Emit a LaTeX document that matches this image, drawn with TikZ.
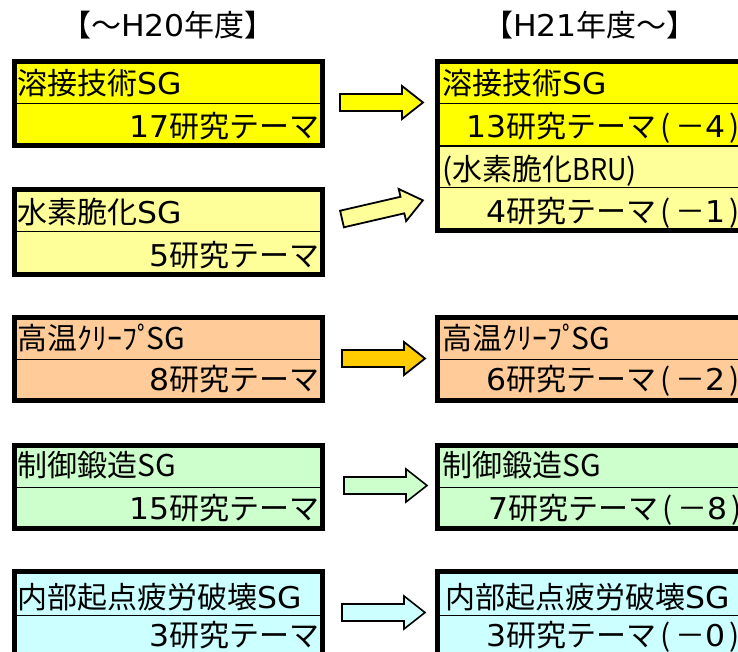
\documentclass[tikz,border=0pt]{standalone}
\usepackage{fontspec}
\setmainfont{Noto Sans CJK JP}
\newfontfamily\latf[FakeStretch=1.05]{DejaVu Sans}
\newfontfamily\narf[FakeStretch=0.9]{Noto Sans CJK JP}
\definecolor{cYel}{HTML}{FFFF00}
\definecolor{cLY}{HTML}{FFFF99}
\definecolor{cPeach}{HTML}{FFCC99}
\definecolor{cGreen}{HTML}{CCFFCC}
\definecolor{cCyan}{HTML}{CCFFFF}
\definecolor{cGold}{HTML}{FFCC00}
\newcommand\PLx{\makebox[19pt][c]{(}}
\newcommand\MNx{\makebox[30pt][c]{－}}
\newcommand\PRx{\makebox[19pt][c]{)}}
\newcommand\creep{高温ｸﾘｰﾌﾟ\kern-6pt SG}
\newcommand\barrow[4]{%
  \draw[#4, shift={(#1,#2)}, rotate=#3] (0,-8.5) -- (62,-8.5) -- (62,-16.5) -- (83,0) -- (62,16.5) -- (62,8.5) -- (0,8.5) -- cycle;}
\tikzset{
  frame/.style={draw=black,line width=5pt},
  divline/.style={draw=black,line width=1pt},
  thickdiv/.style={draw=black,line width=2.5pt},
  txt/.style={inner sep=0pt, font=\fontsize{30}{30}\selectfont},
  lt/.style={txt, anchor=base west},
  rt/.style={txt, anchor=base east},
  arr/.style={draw=black, line width=1.8pt, line join=miter},
}
\begin{document}
\begin{tikzpicture}[x=1pt,y=-1pt]
\useasboundingbox (0,0) rectangle (738,652);
\fill[white] (0,0) rectangle (738,652);

% headers
\node[txt, anchor=base] (h1) at (168,36.4) {【～{\latf H20}年度】};
\node[txt, anchor=base] (h2) at (590,36.4) {【{\latf H21}年度～】};

% ---------- left column ----------
% A
\fill[cYel] (14.5,61.5) rectangle (322.5,145.5);
\draw[divline] (14.5,104) -- (322.5,104);
\draw[frame] (14.5,61.5) rectangle (322.5,145.5);
% B
\fill[cLY] (14.5,189.5) rectangle (322.5,274.5);
\draw[divline] (14.5,232) -- (322.5,232);
\draw[frame] (14.5,189.5) rectangle (322.5,274.5);
% C
\fill[cPeach] (14.5,317.5) rectangle (322.5,400.5);
\draw[divline] (14.5,359) -- (322.5,359);
\draw[frame] (14.5,317.5) rectangle (322.5,400.5);
% D
\fill[cGreen] (14.5,445.5) rectangle (322.5,528.5);
\draw[divline] (14.5,487) -- (322.5,487);
\draw[frame] (14.5,445.5) rectangle (322.5,528.5);
% E
\fill[cCyan] (14.5,571.5) rectangle (322.5,700);
\draw[divline] (14.5,615) -- (322.5,615);
\draw[frame] (14.5,571.5) rectangle (322.5,700);

% ---------- right column ----------
% A (two SGs merged)
\fill[cYel] (437.5,61.5) rectangle (770,146);
\fill[cLY] (437.5,146) rectangle (770,230.5);
\draw[divline] (437.5,104) -- (770,104);
\draw[thickdiv] (437.5,146) -- (770,146);
\draw[divline] (437.5,188) -- (770,188);
\draw[frame] (437.5,61.5) rectangle (770,230.5);
% C
\fill[cPeach] (437.5,317.5) rectangle (770,400.5);
\draw[divline] (437.5,359) -- (770,359);
\draw[frame] (437.5,317.5) rectangle (770,400.5);
% D
\fill[cGreen] (437.5,445.5) rectangle (770,528.5);
\draw[divline] (437.5,487) -- (770,487);
\draw[frame] (437.5,445.5) rectangle (770,528.5);
% E
\fill[cCyan] (437.5,571.5) rectangle (770,700);
\draw[divline] (437.5,615) -- (770,615);
\draw[frame] (437.5,571.5) rectangle (770,700);

% ---------- texts ----------
\node[lt] (tA) at (17,95) {溶接技術{\latf SG}};
\node[rt] (nA) at (320,138) {{\latf 17}研究テーマ};
\node[lt] (tB) at (17,224) {水素脆化{\latf SG}};
\node[rt] (nB) at (320,266) {{\latf 5}研究テーマ};
\node[lt] (tC) at (17,349) {\creep};
\node[rt] (nC) at (320,390) {{\latf 8}研究テーマ};
\node[lt] (tD) at (17,476) {制御鍛造SG};
\node[rt] (nD) at (320,519) {{\latf 15}研究テーマ};
\node[lt] (tE) at (17,608) {内部起点疲労破壊{\latf SG}};
\node[rt] (nE) at (320,646) {{\latf 3}研究テーマ};

\node[lt] (rtA) at (442,95) {溶接技術{\latf SG}};
\node[lt] (rnA) at (466,138) {{\latf 13}研究テーマ\PLx\MNx{\latf 4}\PRx};
\node[lt] (rtB) at (442,181) {(水素脆化{\narf BRU})};
\node[lt] (rnB) at (486,223) {{\latf 4}研究テーマ\PLx\MNx{\latf 1}\PRx};
\node[lt] (rtC) at (442,349) {\creep};
\node[lt] (rnC) at (486,390) {{\latf 6}研究テーマ\PLx\MNx{\latf 2}\PRx};
\node[lt] (rtD) at (442,476) {制御鍛造SG};
\node[lt] (rnD) at (488,519) {{\latf 7}研究テーマ\PLx\MNx{\latf 8}\PRx};
\node[lt] (rtE) at (445,608) {内部起点疲労破壊{\latf SG}};
\node[lt] (rnE) at (486,646) {{\latf 3}研究テーマ\PLx\MNx{\latf 0}\PRx};

% ---------- block arrows ----------
\barrow{340}{102.5}{0}{arr, fill=cYel}
\barrow{342}{219}{13}{arr, fill=cLY}
\barrow{342}{358.5}{0}{arr, fill=cGold}
\barrow{344}{485.5}{0}{arr, fill=cGreen, line width=1.6pt}
\barrow{342}{612.5}{0}{arr, fill=cCyan, line width=1.6pt}
\end{tikzpicture}
\end{document}
